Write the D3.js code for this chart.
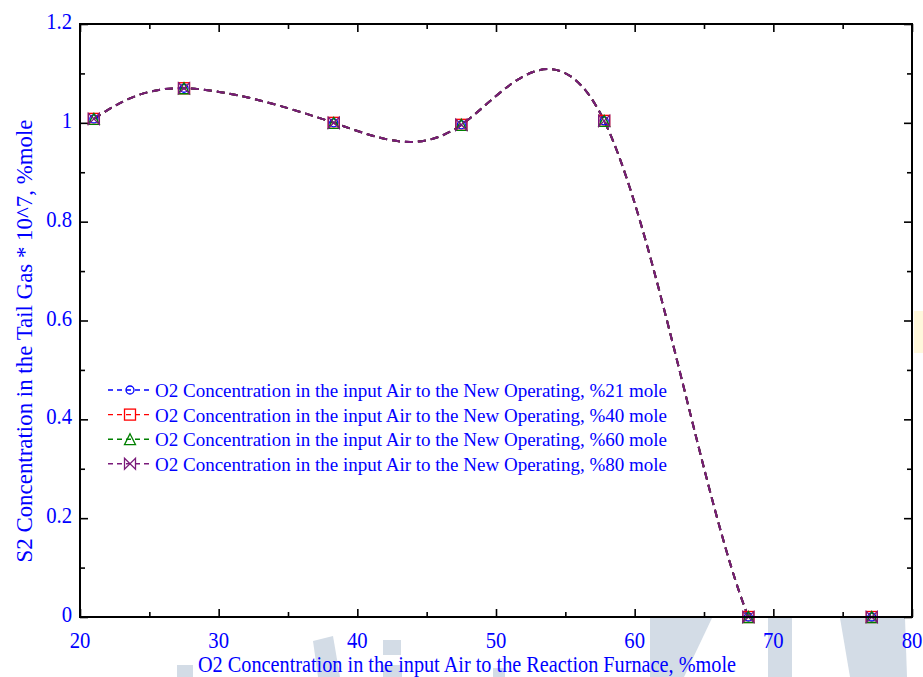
<!DOCTYPE html>
<html>
<head>
<meta charset="utf-8">
<script src="https://cdn.jsdelivr.net/npm/d3@7"></script>
<style>
  body { margin: 0; background: #fff; }
  text { font-family: "Liberation Serif", "Times New Roman", serif; fill: #0000ff; }
</style>
</head>
<body>
<svg id="chart" width="923" height="677"></svg>
<script>
// O2 in the air fed to the reaction furnace (%mole)
const o2Feed = [21, 27.5, 38.3, 47.5, 57.8, 68.2, 77.1];
// S2 in the tail gas (x 10^7, %mole) for each O2 level in the new operating air
const s2At21 = [1.008, 1.070, 1.000, 0.996, 1.004, 0, 0];
const s2At40 = [1.008, 1.070, 1.000, 0.996, 1.004, 0, 0];
const s2At60 = [1.008, 1.070, 1.000, 0.996, 1.004, 0, 0];
const s2At80 = [1.008, 1.070, 1.000, 0.996, 1.004, 0, 0];
const seriesLabels = [
  "O2 Concentration in the input Air to the New Operating, %21 mole",
  "O2 Concentration in the input Air to the New Operating, %40 mole",
  "O2 Concentration in the input Air to the New Operating, %60 mole",
  "O2 Concentration in the input Air to the New Operating, %80 mole"
];
const xMajorTicks = [20, 30, 40, 50, 60, 70, 80];
const xMinorTicks = [25, 35, 45, 55, 65, 75];
const yMajorTicks = [0, 0.2, 0.4, 0.6, 0.8, 1.0, 1.2];
const yMinorTicks = [0.1, 0.3, 0.5, 0.7, 0.9, 1.1];
const xTitle = "O2 Concentration in the input Air to the Reaction Furnace, %mole";
const yTitle = "S2 Concentration in the Tail Gas * 10^7, %mole";

const series = [
  { label: seriesLabels[0], values: s2At21, color: "#0000ff", marker: "circle" },
  { label: seriesLabels[1], values: s2At40, color: "#ff0000", marker: "square" },
  { label: seriesLabels[2], values: s2At60, color: "#008000", marker: "triangle" },
  { label: seriesLabels[3], values: s2At80, color: "#7a1a7a", marker: "bowtie" }
];

const svg = d3.select("#chart");
const L = 80, R = 912, T = 24, B = 617;
const x = d3.scaleLinear().domain([20, 80]).range([L, R]);
const y = d3.scaleLinear().domain([0, 1.2]).range([B, T]);

// faint background logo shapes
const bg = svg.append("g").attr("fill", "#d3dce6");
[
  [[177,665],[193,665],[193,677],[177,677]],
  [[313,641],[333,636],[340,677],[318,677]],
  [[383,640],[401,640],[401,655],[383,655]],
  [[383,665],[402,665],[402,677],[383,677]],
  [[493,668],[505,668],[505,677],[493,677]],
  [[650,618],[712,618],[684,677],[650,677]],
  [[768,618],[792,618],[792,677],[768,677]],
  [[840,618],[905,618],[907,677],[850,677]]
].forEach(p => bg.append("polygon").attr("points", p.join(" ")));
svg.append("rect").attr("x", 914).attr("y", 311).attr("width", 9).attr("height", 42).attr("fill", "#fff8dc");

// tick marks pointing into the plot on all four sides
function tickMarks(axis, tx, ty) {
  svg.append("g").attr("transform", `translate(${tx},${ty})`).call(axis)
    .call(g => {
      g.select(".domain").remove();
      g.selectAll("text").remove();
      g.selectAll("line").attr("stroke", "#000").attr("stroke-width", 1.6);
    });
}
tickMarks(d3.axisBottom(x).tickValues(xMajorTicks).tickSizeInner(-8).tickSizeOuter(0), 0, B);
tickMarks(d3.axisBottom(x).tickValues(xMinorTicks).tickSizeInner(-5).tickSizeOuter(0), 0, B);
tickMarks(d3.axisTop(x).tickValues(xMajorTicks).tickSizeInner(-8).tickSizeOuter(0), 0, T);
tickMarks(d3.axisTop(x).tickValues(xMinorTicks).tickSizeInner(-5).tickSizeOuter(0), 0, T);
tickMarks(d3.axisLeft(y).tickValues(yMajorTicks).tickSizeInner(-8).tickSizeOuter(0), L, 0);
tickMarks(d3.axisLeft(y).tickValues(yMinorTicks).tickSizeInner(-5).tickSizeOuter(0), L, 0);
tickMarks(d3.axisRight(y).tickValues(yMajorTicks).tickSizeInner(-8).tickSizeOuter(0), R, 0);
tickMarks(d3.axisRight(y).tickValues(yMinorTicks).tickSizeInner(-5).tickSizeOuter(0), R, 0);

// tick labels
const tickFont = 23;
svg.append("g").selectAll("text").data(xMajorTicks).join("text")
  .attr("transform", d => `translate(${x(d)},${B + 31}) scale(0.9,1)`)
  .attr("text-anchor", "middle").attr("font-size", tickFont)
  .text(d => d);
svg.append("g").selectAll("text").data(yMajorTicks).join("text")
  .attr("transform", d => `translate(${L - 8},${y(d) + 5}) scale(0.9,1)`)
  .attr("text-anchor", "end").attr("font-size", tickFont)
  .text(d => d3.format("~g")(d));

// axis titles
svg.append("text")
  .attr("x", 467).attr("y", 672).attr("text-anchor", "middle")
  .attr("font-size", 23).attr("textLength", 538).attr("lengthAdjust", "spacingAndGlyphs")
  .text(xTitle);
svg.append("text")
  .attr("transform", "translate(32,341) rotate(-90)").attr("text-anchor", "middle")
  .attr("font-size", 23).attr("textLength", 443).attr("lengthAdjust", "spacingAndGlyphs")
  .text(yTitle);

// markers
const half = 5.5;
function drawMarker(g, kind, color, cx, cy) {
  const m = g.append("g").attr("transform", `translate(${cx},${cy})`)
    .attr("fill", "none").attr("stroke", color).attr("stroke-width", 1.3);
  if (kind === "circle") m.append("circle").attr("r", 4);
  if (kind === "square") m.append("rect").attr("x", -half).attr("y", -half).attr("width", 2 * half).attr("height", 2 * half);
  if (kind === "triangle") m.append("path").attr("d", `M0,${-half}L${half},${half}L${-half},${half}Z`);
  if (kind === "bowtie") m.append("path").attr("d", `M${-half},${-half}L${half},${half}L${half},${-half}L${-half},${half}Z`);
}

// curves, clipped to the plot frame
svg.append("clipPath").attr("id", "plotClip")
  .append("rect").attr("x", L).attr("y", T).attr("width", R - L).attr("height", B - T);
const line = d3.line().x(d => x(d[0])).y(d => y(d[1])).curve(d3.curveNatural);
const plot = svg.append("g");
series.forEach(s => {
  const pts = o2Feed.map((v, i) => [v, s.values[i]]);
  plot.append("path").datum(pts).attr("d", line)
    .attr("clip-path", "url(#plotClip)")
    .attr("fill", "none").attr("stroke", s.color).attr("stroke-width", 2)
    .attr("stroke-dasharray", "8,5");
});
series.forEach(s => {
  o2Feed.forEach((v, i) => drawMarker(plot, s.marker, s.color, x(v), y(s.values[i])));
});

// plot frame
svg.append("rect").attr("x", L).attr("y", T).attr("width", R - L).attr("height", B - T)
  .attr("fill", "none").attr("stroke", "#000").attr("stroke-width", 2);

// legend
const legend = svg.append("g");
series.forEach((s, i) => {
  const ry = 390 + i * 24.6;
  legend.append("line").attr("x1", 108).attr("x2", 152).attr("y1", ry).attr("y2", ry)
    .attr("stroke", s.color).attr("stroke-width", 1.4).attr("stroke-dasharray", "5,4");
  drawMarker(legend, s.marker, s.color, 130, ry);
  legend.append("text").attr("x", 155).attr("y", ry + 7)
    .attr("font-size", 19).attr("textLength", 512).attr("lengthAdjust", "spacingAndGlyphs")
    .text(s.label);
});
</script>
</body>
</html>
